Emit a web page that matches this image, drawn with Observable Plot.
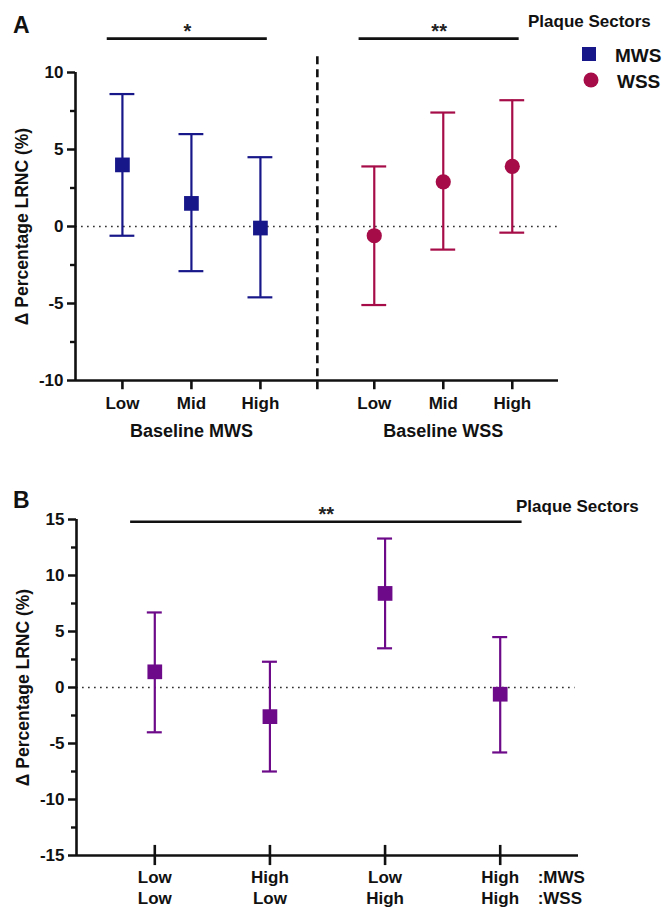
<!DOCTYPE html>
<html><head><meta charset="utf-8">
<script src="https://cdn.jsdelivr.net/npm/d3@7"></script>
<script src="https://cdn.jsdelivr.net/npm/@observablehq/plot@0.6"></script>
<style>
body{margin:0;background:#fff;}
#wrap{position:relative;width:665px;height:907px;background:#fff;overflow:hidden;}
#wrap svg{position:absolute;left:0;overflow:visible;}
#wrap svg text{font-family:"Liberation Sans",Arial,sans-serif;font-weight:bold;}
</style></head><body><div id="wrap"></div>
<script>
// ---------- Panel A data ----------
const levelsA = ["Low", "Mid", "High"];
const sectors = ["MWS", "WSS"];
const meanMWS = [4.0, 1.5, -0.1];
const lowMWS = [-0.6, -2.9, -4.6];
const highMWS = [8.6, 6.0, 4.5];
const meanWSS = [-0.6, 2.9, 3.9];
const lowWSS = [-5.1, -1.5, -0.4];
const highWSS = [3.9, 7.4, 8.2];
const yTicksA = [-10, -5, 0, 5, 10];
const yMinorA = [-7.5, -2.5, 2.5, 7.5];
const sigA = ["*", "**"];
const xTitlesA = ["Baseline MWS", "Baseline WSS"];

// ---------- Panel B data ----------
const rowMWS = ["Low", "High", "Low", "High"];
const rowWSS = ["Low", "Low", "High", "High"];
const meanB = [1.4, -2.6, 8.4, -0.6];
const lowB = [-4.0, -7.5, 3.5, -5.8];
const highB = [6.7, 2.3, 13.3, 4.5];
const yTicksB = [-15, -10, -5, 0, 5, 10, 15];
const yMinorB = [-12.5, -7.5, -2.5, 2.5, 7.5, 12.5];
const sigB = "**";
const rowKeys = [":MWS", ":WSS"];
const yLabel = "Δ Percentage LRNC (%)";

const colMWS = "#17178a";
const colWSS = "#a60c47";
const colB = "#6c0a89";
const ink = "#111";
const font = {fontFamily: '"Liberation Sans", Arial, sans-serif', fontWeight: "bold", fontSize: "16px", background: "transparent", overflow: "visible", color: ink};

const wrap = document.getElementById("wrap");

// y axis drawn with marks through the y scale: major ticks, minor ticks, labels
function yAxisMarks(x0, pxPerX, major, minor) {
  return [
    Plot.ruleY(major, {x1: x0 - 8 / pxPerX, x2: x0, stroke: ink, strokeWidth: 2.5}),
    Plot.ruleY(minor, {x1: x0 - 5 / pxPerX, x2: x0, stroke: ink, strokeWidth: 2.4}),
    Plot.text(major, {x: () => x0, y: d => d, text: d => String(d), dx: -12, textAnchor: "end", fontSize: 17, fill: ink})
  ];
}

// ---------- Panel A ----------
const groupStep = 3.65;
const posA = (s, i) => s * groupStep + i;
const dividerA = (2 + groupStep) / 2;
const dataA = [];
sectors.forEach((sec, s) => {
  const m = s === 0 ? meanMWS : meanWSS, lo = s === 0 ? lowMWS : lowWSS, hi = s === 0 ? highMWS : highWSS;
  levelsA.forEach((lv, i) => dataA.push({sector: sec, level: lv, x: posA(s, i), mean: m[i], lo: lo[i], hi: hi[i]}));
});
const xDomA = [-0.68, 6.32];
const capA = 0.18;
const sigDataA = sectors.map((sec, s) => ({label: sigA[s], x1: posA(s, 0) - 0.22, x2: posA(s, 2) + 0.1}));
const sigYA = 12.2;

const plotA = Plot.plot({
  width: 665, height: 445,
  marginLeft: 75, marginRight: 107, marginTop: 72, marginBottom: 65,
  style: font,
  x: {domain: xDomA, axis: null},
  y: {domain: [-10, 10], axis: null},
  marks: [
    Plot.ruleY([0], {stroke: "#333", strokeWidth: 1.7, strokeDasharray: "1.7,4.3"}),
    Plot.ruleX([dividerA], {y1: -10.6, y2: 11.3, stroke: ink, strokeWidth: 2.6, strokeDasharray: "8,5"}),
    Plot.ruleX([xDomA[0]], {y1: -10, y2: 10, stroke: ink, strokeWidth: 2.6}),
    Plot.ruleY([-10], {stroke: ink, strokeWidth: 2.6}),
    ...yAxisMarks(xDomA[0], 69, yTicksA, yMinorA),
    Plot.ruleX(dataA, {x: "x", y1: -10, y2: -10.6, stroke: ink, strokeWidth: 2.6}),
    Plot.text(dataA, {x: "x", y: () => -10, text: "level", dy: 23, fontSize: 17, fill: ink}),
    Plot.text(sectors.map((s, k) => ({t: xTitlesA[k], x: posA(k, 1)})), {x: "x", y: () => -10, text: "t", dy: 51, fontSize: 18, fill: ink}),
    Plot.ruleX(dataA, {x: "x", y1: "lo", y2: "hi", stroke: d => d.sector === "MWS" ? colMWS : colWSS, strokeWidth: 2.2}),
    Plot.ruleY(dataA, {y: "hi", x1: d => d.x - capA, x2: d => d.x + capA, stroke: d => d.sector === "MWS" ? colMWS : colWSS, strokeWidth: 2.2}),
    Plot.ruleY(dataA, {y: "lo", x1: d => d.x - capA, x2: d => d.x + capA, stroke: d => d.sector === "MWS" ? colMWS : colWSS, strokeWidth: 2.2}),
    Plot.dot(dataA.filter(d => d.sector === "MWS"), {x: "x", y: "mean", symbol: "square", r: 8.3, fill: colMWS, stroke: "none"}),
    Plot.dot(dataA.filter(d => d.sector === "WSS"), {x: "x", y: "mean", symbol: "circle", r: 7.6, fill: colWSS, stroke: "none"}),
    Plot.ruleY(sigDataA, {y: () => sigYA, x1: "x1", x2: "x2", stroke: ink, strokeWidth: 2.6}),
    Plot.text(sigDataA, {x: d => (d.x1 + d.x2) / 2, y: () => sigYA, text: "label", lineAnchor: "bottom", dy: -1, fontSize: 20, fontWeight: "normal", fill: "#222"}),
    Plot.text([yLabel], {frameAnchor: "left", textAnchor: "middle", rotate: -90, dx: -53, fontSize: 17.5, fill: ink})
  ]
});
plotA.style.top = "0px";
wrap.appendChild(plotA);

// ---------- Panel B ----------
const dataB = rowMWS.map((m, i) => ({mws: m, wss: rowWSS[i], x: i, mean: meanB[i], lo: lowB[i], hi: highB[i]}));
const xDomB = [-0.68, 3.68];
const capB = 0.065;
const sigYB = 14.8;
const keyX = dataB.length - 1 + 0.325;
const plotB = Plot.plot({
  width: 665, height: 447,
  marginLeft: 76, marginRight: 87, marginTop: 59, marginBottom: 52,
  style: font,
  x: {domain: xDomB, axis: null},
  y: {domain: [-15, 15], axis: null},
  marks: [
    Plot.ruleY([0], {x1: xDomB[0], x2: 3.65, stroke: "#333", strokeWidth: 1.7, strokeDasharray: "1.7,4.3"}),
    Plot.ruleX([xDomB[0]], {y1: -15, y2: 15, stroke: ink, strokeWidth: 2.6}),
    Plot.ruleY([-15], {stroke: ink, strokeWidth: 2.6}),
    ...yAxisMarks(xDomB[0], 115.1, yTicksB, yMinorB),
    Plot.ruleX(dataB, {x: "x", y1: -15 - 0.9, y2: -15 + 0.9, stroke: ink, strokeWidth: 2.6}),
    Plot.text(dataB, {x: "x", y: () => -15, text: "mws", dy: 22, fontSize: 17, fill: ink}),
    Plot.text(dataB, {x: "x", y: () => -15, text: "wss", dy: 43, fontSize: 17, fill: ink}),
    Plot.text([rowKeys[0]], {x: () => keyX, y: () => -15, text: d => d, dy: 22, textAnchor: "start", fontSize: 17, fill: ink}),
    Plot.text([rowKeys[1]], {x: () => keyX, y: () => -15, text: d => d, dy: 43, textAnchor: "start", fontSize: 17, fill: ink}),
    Plot.ruleX(dataB, {x: "x", y1: "lo", y2: "hi", stroke: colB, strokeWidth: 2.2}),
    Plot.ruleY(dataB, {y: "hi", x1: d => d.x - capB, x2: d => d.x + capB, stroke: colB, strokeWidth: 2.2}),
    Plot.ruleY(dataB, {y: "lo", x1: d => d.x - capB, x2: d => d.x + capB, stroke: colB, strokeWidth: 2.2}),
    Plot.dot(dataB, {x: "x", y: "mean", symbol: "square", r: 8.3, fill: colB, stroke: "none"}),
    Plot.ruleY([sigB], {y: () => sigYB, x1: () => -0.21, x2: () => dataB.length - 1 + 0.19, stroke: ink, strokeWidth: 2.6}),
    Plot.text([sigB], {x: () => (dataB.length - 1 - 0.02) / 2, y: () => sigYB, text: d => d, lineAnchor: "bottom", dy: -1, fontSize: 20, fontWeight: "normal", fill: "#222"}),
    Plot.text([yLabel], {frameAnchor: "left", textAnchor: "middle", rotate: -90, dx: -53, fontSize: 17.5, fill: ink})
  ]
});
plotB.style.top = "460px";
wrap.appendChild(plotB);

// ---------- Panel letters and legends (overlay) ----------
const ov = d3.select(wrap).append("svg").attr("width", 665).attr("height", 907).style("top", "0px").style("pointer-events", "none");
ov.append("text").attr("x", 13).attr("y", 33).attr("font-size", 23).attr("fill", ink).text("A");
ov.append("text").attr("x", 13).attr("y", 508).attr("font-size", 23).attr("fill", ink).text("B");
ov.append("text").attr("x", 528).attr("y", 27).attr("font-size", 17).attr("fill", ink).text("Plaque Sectors");
ov.append("text").attr("x", 516).attr("y", 512).attr("font-size", 17).attr("fill", ink).text("Plaque Sectors");
ov.append("rect").attr("x", 582).attr("y", 47).attr("width", 14).attr("height", 14).attr("fill", colMWS);
ov.append("text").attr("x", 615).attr("y", 62).attr("font-size", 19).attr("fill", ink).text(sectors[0]);
ov.append("circle").attr("cx", 591).attr("cy", 80).attr("r", 7.5).attr("fill", colWSS);
ov.append("text").attr("x", 617).attr("y", 88).attr("font-size", 19).attr("fill", ink).text(sectors[1]);
</script></body></html>
